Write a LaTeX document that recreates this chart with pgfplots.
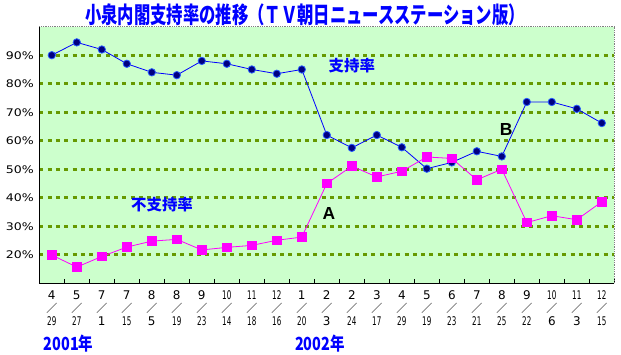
\documentclass[border=0pt]{standalone}
\usepackage{fontspec}
\setmainfont{DejaVu Sans}
\newfontfamily\jp{Noto Sans CJK JP}
\newfontfamily\lib{Liberation Sans}
\usepackage{graphicx}
\usepackage{pgfplots}
\pgfplotsset{compat=1.18}

\definecolor{bg}{RGB}{204,255,204}
\definecolor{gridc}{RGB}{102,153,0}
\definecolor{navy}{RGB}{0,0,128}
\definecolor{mag}{RGB}{255,0,255}
\definecolor{tblue}{RGB}{0,0,255}
\definecolor{mblue}{RGB}{40,90,255}

\newcommand{\dd}[1]{\scalebox{0.6}[1]{#1}}
\newcommand{\lab}[2]{#1\\{\jp\fontsize{11}{13}\selectfont ／}\\#2}
\newcommand{\yl}[1]{\scalebox{1.2}[1]{#1\%}}

\begin{document}
\begin{tikzpicture}
\useasboundingbox (0,0) rectangle (621bp,355bp);
\begin{axis}[
  at={(39.3bp,71.7bp)}, anchor=south west,
  scale only axis, width=575bp, height=256.6bp,
  xmin=-0.5, xmax=22.5, ymin=10, ymax=100,
  axis background/.style={fill=bg},
  axis line style={draw=none},
  clip=false,
  xtick={0,...,22},
  xticklabels={\lab{4}{\dd{29}}, \lab{5}{\dd{27}}, \lab{7}{1}, \lab{7}{\dd{15}}, \lab{8}{5}, \lab{8}{\dd{19}}, \lab{9}{\dd{23}}, \lab{\dd{10}}{\dd{14}}, \lab{\dd{11}}{\dd{18}}, \lab{\dd{12}}{\dd{16}}, \lab{1}{\dd{20}}, \lab{2}{3}, \lab{2}{\dd{24}}, \lab{3}{\dd{17}}, \lab{4}{\dd{29}}, \lab{5}{\dd{19}}, \lab{6}{\dd{23}}, \lab{7}{\dd{21}}, \lab{8}{\dd{25}}, \lab{9}{\dd{22}}, \lab{\dd{10}}{6}, \lab{\dd{11}}{3}, \lab{\dd{12}}{\dd{15}}},
  xticklabel style={align=center, font=\fontsize{12}{13}\selectfont, anchor=north, yshift=-4bp},
  minor xtick={-0.5,0.5,...,22.5},
  major x tick style={draw=none},
  minor x tick style={black, line width=0.8bp},
  minor tick length=4bp, tick align=inside,
  xtick pos=bottom, ytick pos=left,
  ytick={20,30,...,90},
  yticklabels={\yl{20},\yl{30},\yl{40},\yl{50},\yl{60},\yl{70},\yl{80},\yl{90}},
  yticklabel style={font=\fontsize{10.5}{12}\selectfont, anchor=east, xshift=-2bp},
  major y tick style={draw=none},
  ymajorgrids,
  y grid style={gridc, line width=3bp, dash pattern=on 4bp off 4.3bp},
]
\addplot[tblue, line width=0.8bp, mark=*, mark size=3.7bp, mark options={fill=navy, draw=mblue, line width=0.8bp}] coordinates {
(0,90) (1,94.5) (2,92) (3,87) (4,84) (5,83) (6,88) (7,87) (8,85) (9,83.5) (10,85)
(11,62) (12,57.5) (13,62) (14,57.7) (15,50.2) (16,52.4) (17,56.3) (18,54.5) (19,73.6) (20,73.6) (21,71.2) (22,66.2)};
\addplot[mag, line width=0.8bp, mark=square*, mark size=4.3bp, mark options={fill=mag, draw=mag}] coordinates {
(0,19.9) (1,15.7) (2,19.4) (3,22.7) (4,24.8) (5,25.4) (6,21.7) (7,22.6) (8,23.3) (9,25.1) (10,26.2)
(11,45) (12,51.1) (13,47.3) (14,49.3) (15,54.3) (16,53.8) (17,46.3) (18,50) (19,31.3) (20,33.7) (21,32.3) (22,38.6)};
\draw[black, line width=1bp] (rel axis cs:0,1) -- (rel axis cs:0,0) -- (rel axis cs:1,0);
\draw[gray, line width=0.8bp, densely dotted] (rel axis cs:0,1) -- (rel axis cs:1,1) -- (rel axis cs:1,0);
\node[text=tblue, font=\jp\bfseries\fontsize{15.5}{16}\selectfont] at (axis cs:12.0,86.2) {支持率};
\node[text=tblue, font=\jp\bfseries\fontsize{15.5}{16}\selectfont] at (axis cs:4.41,37.6) {不支持率};
\node[font=\lib\bfseries\fontsize{17.5}{18}\selectfont] at (axis cs:11.08,34.5) {A};
\node[font=\lib\bfseries\fontsize{17.5}{18}\selectfont] at (axis cs:18.17,63.9) {B};
\end{axis}
\node[text=tblue, font=\jp\bfseries\fontsize{16.4}{18}\selectfont] at (305bp,340.5bp) {\scalebox{1}[1.4]{小泉内閣支持率の推移（ＴＶ朝日ニュースステーション版）}};
\node[text=tblue, font=\jp\bfseries\fontsize{14.5}{16}\selectfont] at (68.5bp,11bp) {\scalebox{1}[1.25]{2001年}};
\node[text=tblue, font=\jp\bfseries\fontsize{14.5}{16}\selectfont] at (320bp,11bp) {\scalebox{1}[1.25]{2002年}};
\end{tikzpicture}
\end{document}
